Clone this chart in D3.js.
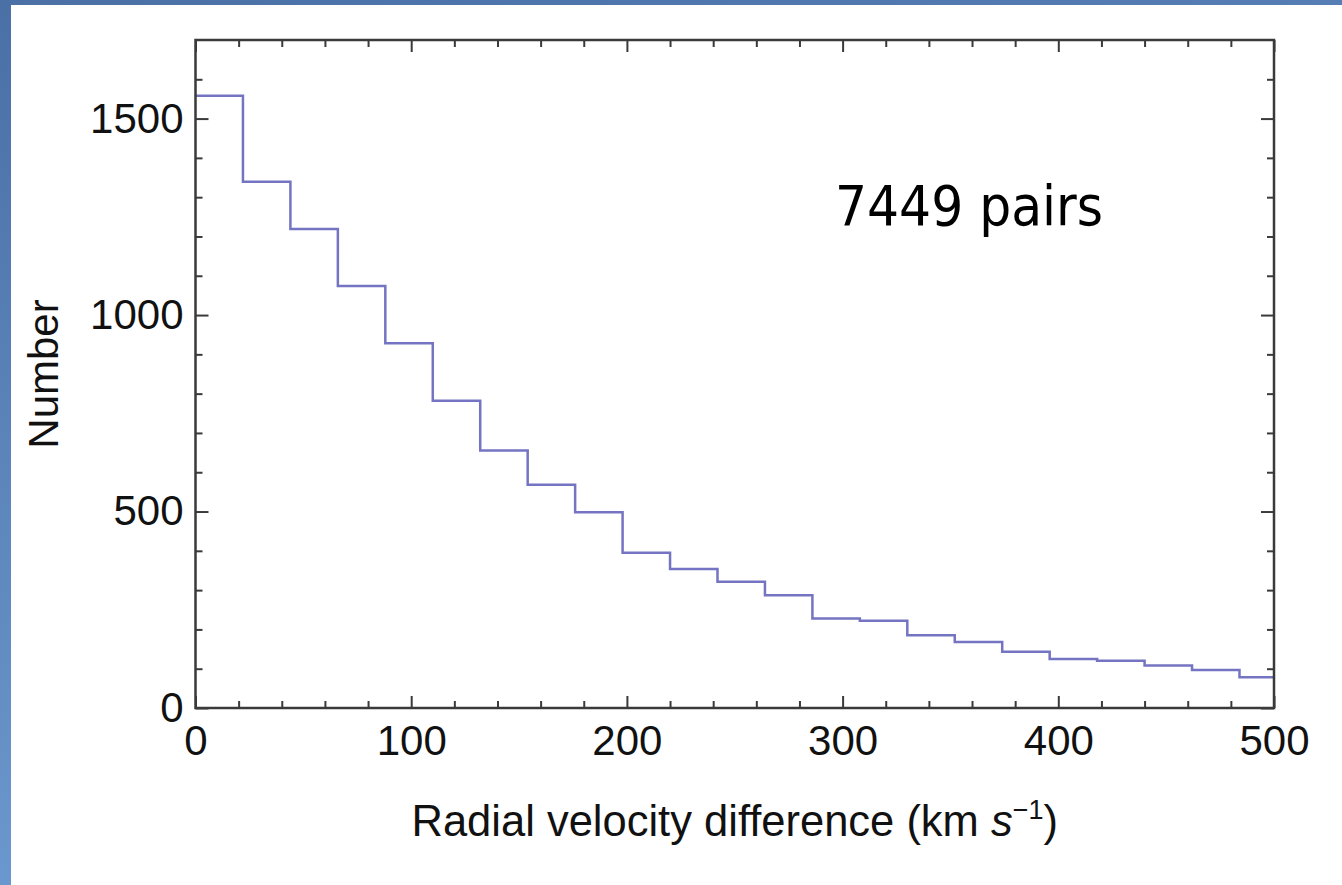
<!DOCTYPE html>
<html>
<head>
<meta charset="utf-8">
<script src="https://cdn.jsdelivr.net/npm/d3@7"></script>
<style>
    body { margin: 0; background: #fff; }
    svg { display: block; }
    .tick text { font-family: "Liberation Sans", Arial, Helvetica, sans-serif; }
</style>
</head>
<body>
<div id="chart"></div>
<script>
// Histogram data (bin left edges in km/s, counts per bin)
const binStarts = [0, 22, 44, 66, 88, 110, 132, 154, 176, 198, 220, 242,
                   264, 286, 308, 330, 352, 374, 396, 418, 440, 462, 484];
const counts = [1558, 1339, 1219, 1074, 928, 782, 655, 568, 498, 395, 354, 321,
                287, 228, 222, 185, 168, 143, 125, 120, 108, 97, 78];
const binWidth = 22;

const xMajorTicks = [0, 100, 200, 300, 400, 500];
const xMinorTicks = [20, 40, 60, 80, 120, 140, 160, 180, 220, 240, 260, 280,
                     320, 340, 360, 380, 420, 440, 460, 480];
const yMajorTicks = [0, 500, 1000, 1500];
const yMinorTicks = [100, 200, 300, 400, 600, 700, 800, 900, 1100, 1200, 1300, 1400, 1600];

const annotation = '7449 pairs';

const width = 1342, height = 885;
const plot = { left: 195.5, right: 1274, top: 40, bottom: 708 };

const svg = d3.select('#chart')
    .append('svg')
    .attr('width', width)
    .attr('height', height);

// Slide background
const defs = svg.append('defs');
const grad = defs.append('linearGradient')
    .attr('id', 'bg')
    .attr('x1', 0).attr('y1', 0).attr('x2', 0.35).attr('y2', 1);
grad.append('stop').attr('offset', '0%').attr('stop-color', '#4a70a6');
grad.append('stop').attr('offset', '100%').attr('stop-color', '#6e9cd2');

svg.append('rect')
    .attr('width', width).attr('height', height)
    .attr('fill', 'url(#bg)');
svg.append('rect')
    .attr('x', 11).attr('y', 5)
    .attr('width', width - 11).attr('height', height - 5)
    .attr('fill', '#fff');

defs.append('clipPath').attr('id', 'plotClip')
    .append('rect')
    .attr('x', plot.left).attr('y', plot.top)
    .attr('width', plot.right - plot.left).attr('height', plot.bottom - plot.top);

// Scales
const xScale = d3.scaleLinear().domain([0, 500]).range([plot.left, plot.right]);
const yScale = d3.scaleLinear().domain([0, 1700]).range([plot.bottom, plot.top]);

// Histogram step line
const points = binStarts.map((s, i) => [s, counts[i]]);
points.push([binStarts[binStarts.length - 1] + binWidth, counts[counts.length - 1]]);

const line = d3.line()
    .x(d => xScale(d[0]))
    .y(d => yScale(d[1]))
    .curve(d3.curveStepAfter);

svg.append('path')
    .datum(points)
    .attr('clip-path', 'url(#plotClip)')
    .attr('d', line)
    .attr('fill', 'none')
    .attr('stroke', '#7474c2')
    .attr('stroke-width', 2.5);

// Axes (ticks pointing inward on all four sides)
const axisColor = '#3a3a3a';
function styleAxis(g, labels) {
    g.select('.domain').remove();
    g.selectAll('line').attr('stroke', axisColor).attr('stroke-width', 2);
    g.selectAll('text')
        .attr('font-size', 42)
        .attr('fill', '#111')
        .style('display', labels ? null : 'none');
}

svg.append('g')
    .attr('transform', `translate(0,${plot.bottom})`)
    .call(d3.axisBottom(xScale).tickValues(xMajorTicks).tickSize(-12).tickPadding(17).tickFormat(d3.format('d')))
    .call(g => styleAxis(g, true));
svg.append('g')
    .attr('transform', `translate(0,${plot.bottom})`)
    .call(d3.axisBottom(xScale).tickValues(xMinorTicks).tickSize(-7).tickFormat(''))
    .call(g => styleAxis(g, false));
svg.append('g')
    .attr('transform', `translate(0,${plot.top})`)
    .call(d3.axisTop(xScale).tickValues(xMajorTicks).tickSize(-12).tickFormat(''))
    .call(g => styleAxis(g, false));
svg.append('g')
    .attr('transform', `translate(0,${plot.top})`)
    .call(d3.axisTop(xScale).tickValues(xMinorTicks).tickSize(-7).tickFormat(''))
    .call(g => styleAxis(g, false));

svg.append('g')
    .attr('transform', `translate(${plot.left},0)`)
    .call(d3.axisLeft(yScale).tickValues(yMajorTicks).tickSize(-13).tickPadding(12).tickFormat(d3.format('d')))
    .call(g => styleAxis(g, true));
svg.append('g')
    .attr('transform', `translate(${plot.left},0)`)
    .call(d3.axisLeft(yScale).tickValues(yMinorTicks).tickSize(-7).tickFormat(''))
    .call(g => styleAxis(g, false));
svg.append('g')
    .attr('transform', `translate(${plot.right},0)`)
    .call(d3.axisRight(yScale).tickValues(yMajorTicks).tickSize(-13).tickFormat(''))
    .call(g => styleAxis(g, false));
svg.append('g')
    .attr('transform', `translate(${plot.right},0)`)
    .call(d3.axisRight(yScale).tickValues(yMinorTicks).tickSize(-7).tickFormat(''))
    .call(g => styleAxis(g, false));

// Frame
svg.append('rect')
    .attr('x', plot.left).attr('y', plot.top)
    .attr('width', plot.right - plot.left).attr('height', plot.bottom - plot.top)
    .attr('fill', 'none')
    .attr('stroke', axisColor)
    .attr('stroke-width', 2.5);

// Axis titles
const sans = '"Liberation Sans", Arial, Helvetica, sans-serif';

svg.append('text')
    .attr('transform', `translate(58,${(plot.top + plot.bottom) / 2}) rotate(-90)`)
    .attr('text-anchor', 'middle')
    .attr('font-family', sans)
    .attr('font-size', 42)
    .attr('fill', '#111')
    .text('Number');

const xTitle = svg.append('text')
    .attr('x', (plot.left + plot.right) / 2)
    .attr('y', 836)
    .attr('text-anchor', 'middle')
    .attr('font-family', sans)
    .attr('font-size', 43.5)
    .attr('fill', '#111');
xTitle.append('tspan').text('Radial velocity difference (km ');
xTitle.append('tspan').attr('font-style', 'italic').text('s');
xTitle.append('tspan').attr('font-size', 27).attr('dy', -17).text('\u22121');
xTitle.append('tspan').attr('dy', 17).text(')');

// Annotation
svg.append('text')
    .attr('x', 835)
    .attr('y', 225)
    .attr('font-family', 'Tahoma, "DejaVu Sans Condensed", "DejaVu Sans", sans-serif')
    .attr('font-size', 56)
    .attr('fill', '#000')
    .text(annotation);
</script>
</body>
</html>
